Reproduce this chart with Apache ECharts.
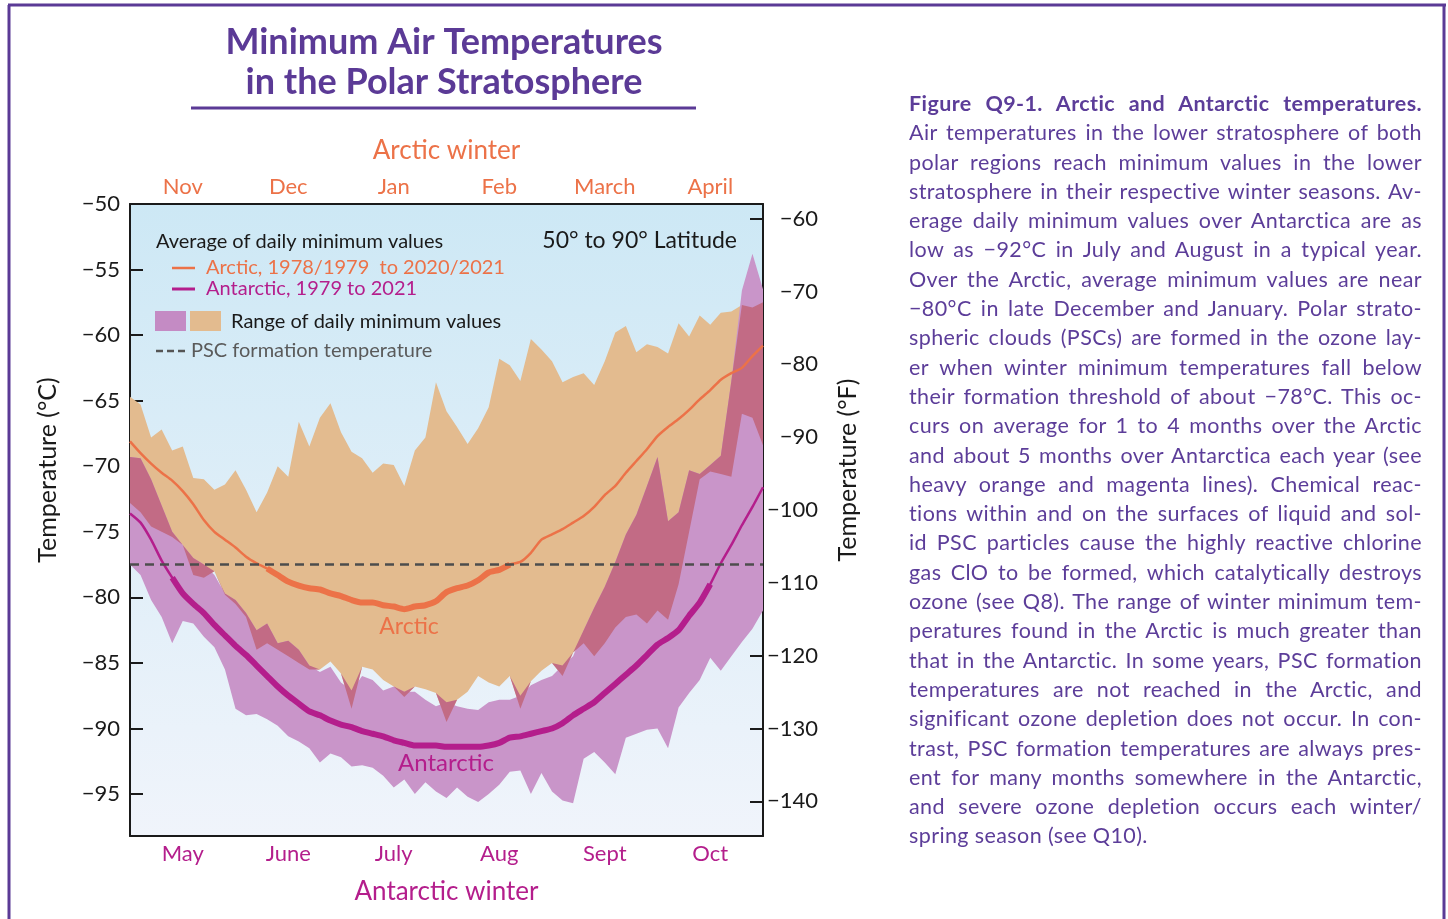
<!DOCTYPE html>
<html>
<head>
<meta charset="utf-8">
<script src="https://cdn.jsdelivr.net/npm/echarts@6/dist/echarts.min.js"></script>
<style>
html, body { margin: 0; padding: 0; background: #fff; }
#wrap { position: relative; width: 1448px; height: 919px; overflow: hidden; }
#chart { position: absolute; left: 0; top: 0; width: 1448px; height: 919px; }
#caption { position: absolute; left: 909px; top: 89px; width: 513px;
  font-family: Lato, 'Open Sans', sans-serif; font-size: 21.5px; letter-spacing: 0.4px;
  line-height: 29.3px; color: #5c3d99; }
#caption div { height: 29.3px; white-space: nowrap; text-align: justify; text-align-last: justify; }
#caption div.last { text-align-last: left; }
</style>
</head>
<body>
<div id="wrap">
  <div id="chart"></div>
  <div id="caption">
    <div><b>Figure Q9-1. Arctic and Antarctic temperatures.</b></div>
    <div>Air temperatures in the lower stratosphere of both</div>
    <div>polar regions reach minimum values in the lower</div>
    <div>stratosphere in their respective winter seasons. Av-</div>
    <div>erage daily minimum values over Antarctica are as</div>
    <div>low as −92°C in July and August in a typical year.</div>
    <div>Over the Arctic, average minimum values are near</div>
    <div>−80°C in late December and January. Polar strato-</div>
    <div>spheric clouds (PSCs) are formed in the ozone lay-</div>
    <div>er when winter minimum temperatures fall below</div>
    <div>their formation threshold of about −78°C. This oc-</div>
    <div>curs on average for 1 to 4 months over the Arctic</div>
    <div>and about 5 months over Antarctica each year (see</div>
    <div>heavy orange and magenta lines). Chemical reac-</div>
    <div>tions within and on the surfaces of liquid and sol-</div>
    <div>id PSC particles cause the highly reactive chlorine</div>
    <div>gas ClO to be formed, which catalytically destroys</div>
    <div>ozone (see Q8). The range of winter minimum tem-</div>
    <div>peratures found in the Arctic is much greater than</div>
    <div>that in the Antarctic. In some years, PSC formation</div>
    <div>temperatures are not reached in the Arctic, and</div>
    <div>significant ozone depletion does not occur. In con-</div>
    <div>trast, PSC formation temperatures are always pres-</div>
    <div>ent for many months somewhere in the Antarctic,</div>
    <div>and severe ozone depletion occurs each winter/</div>
    <div class="last">spring season (see Q10).</div>
  </div>
</div>
<script>
// months shown on the two x axes (Arctic on top, Antarctic below)
var arcMonths = ['Nov', 'Dec', 'Jan', 'Feb', 'March', 'April'];
var antMonths = ['May', 'June', 'July', 'Aug', 'Sept', 'Oct'];
var cTicks = [-95, -90, -85, -80, -75, -70, -65, -60, -55, -50];
var fTicks = [-140, -130, -120, -110, -100, -90, -80, -70, -60];
var PSC = -77.5;

// daily minimum temperatures (°C), one value every ~3 days through the winter
var arcHi = [-64.7,-65.3,-67.8,-67.2,-68.8,-68.5,-70.9,-71.0,-71.8,-71.4,
  -70.3,-71.8,-73.5,-72.0,-70.0,-70.8,-66.6,-68.5,-66.3,-65.2,
  -67.4,-68.9,-69.4,-70.5,-69.8,-69.9,-71.5,-68.8,-67.8,-63.6,
  -65.8,-67.0,-68.3,-67.1,-65.5,-61.8,-62.3,-63.5,-60.3,-61.1,
  -62.0,-63.6,-63.2,-62.9,-63.8,-62.0,-59.8,-59.3,-61.3,-60.7,
  -60.9,-61.4,-59.1,-60.1,-58.5,-59.2,-58.3,-58.2,-57.7,-57.9,-57.5];
var arcLo = [-72.8,-73.5,-74.6,-75.0,-75.4,-76.0,-78.3,-78.5,-78.0,-79.8,
  -80.5,-81.5,-84.0,-83.5,-84.0,-84.5,-85.0,-85.5,-85.5,-84.9,
  -85.8,-88.5,-85.3,-85.5,-86.3,-86.8,-87.6,-86.8,-87.0,-87.3,
  -89.5,-87.8,-87.2,-86.0,-86.5,-86.8,-86.0,-88.5,-86.4,-85.6,
  -85.0,-86.0,-84.2,-83.5,-84.5,-83.5,-82.3,-81.5,-81.3,-82.0,
  -81.0,-81.7,-79.0,-75.0,-71.0,-70.4,-70.6,-70.8,-66.0,-66.3,-68.4];
var antHi = [-69.3,-69.4,-71.0,-73.0,-75.0,-76.0,-77.0,-77.5,-78.3,-79.7,
  -80.2,-81.2,-82.5,-82.0,-83.5,-83.3,-84.0,-85.2,-85.7,-85.3,
  -86.5,-87.1,-86.0,-86.3,-87.1,-86.8,-87.2,-87.2,-87.8,-88.3,
  -88.0,-88.3,-88.5,-88.6,-88.0,-87.8,-87.8,-87.5,-86.7,-86.3,
  -86.0,-85.2,-84.5,-82.5,-80.8,-79.2,-77.3,-75.2,-73.7,-71.5,
  -69.3,-74.2,-73.5,-70.3,-70.6,-69.9,-69.2,-63.5,-56.6,-53.8,-56.5];
var antLo = [-77.5,-78.3,-80.2,-81.5,-83.5,-81.8,-82.0,-83.0,-83.8,-85.5,
  -88.5,-89.0,-88.9,-89.3,-89.8,-90.6,-91.0,-91.5,-92.6,-91.9,
  -92.2,-92.9,-92.8,-93.0,-93.6,-94.5,-93.9,-95.0,-94.1,-94.8,
  -95.3,-94.5,-95.2,-95.6,-95.0,-94.3,-93.3,-93.2,-95.0,-93.4,
  -94.8,-95.5,-95.7,-92.3,-91.8,-92.6,-93.5,-90.7,-90.4,-90.1,
  -90.0,-91.5,-88.4,-87.3,-86.3,-84.6,-85.6,-84.5,-83.4,-82.4,-81.0];
var arcMean = [-68.1,-69.0,-69.8,-70.5,-71.1,-71.9,-72.9,-74.1,-75.0,-75.6,
  -76.2,-76.9,-77.4,-77.8,-78.3,-78.8,-79.1,-79.3,-79.4,-79.7,
  -79.9,-80.2,-80.4,-80.4,-80.6,-80.7,-80.9,-80.7,-80.6,-80.3,
  -79.6,-79.3,-79.1,-78.7,-78.1,-77.9,-77.5,-77.3,-76.6,-75.6,
  -75.2,-74.8,-74.3,-73.8,-73.1,-72.2,-71.5,-70.5,-69.6,-68.7,
  -67.7,-67.0,-66.4,-65.7,-64.9,-64.2,-63.4,-62.9,-62.5,-61.6,-60.8];
var antMean = [-73.6,-74.3,-75.6,-77.2,-78.5,-79.7,-80.5,-81.2,-82.1,-82.9,
  -83.7,-84.4,-85.2,-86.0,-86.8,-87.5,-88.1,-88.7,-89.0,-89.4,
  -89.7,-89.9,-90.2,-90.4,-90.6,-90.9,-91.1,-91.3,-91.3,-91.3,
  -91.4,-91.4,-91.4,-91.4,-91.3,-91.1,-90.7,-90.6,-90.4,-90.2,
  -90.0,-89.6,-89.0,-88.5,-88.0,-87.3,-86.6,-85.9,-85.2,-84.4,
  -83.6,-83.1,-82.5,-81.4,-80.4,-79.0,-77.4,-76.0,-74.5,-73.1,-71.6];

var steps = arcMean.map(function (v, i) { return i; });

var ORANGE = '#ec7248', MAGENTA = '#b41e8c', PURPLE = '#5b3a96';
var FONT = 'Lato, "Open Sans", sans-serif';

function minus(v) { return String(v).replace('-', '\u2212'); }

// range band = invisible base + stacked difference
function band(id, lo, hi, color) {
    return [{
        type: 'line', data: lo, stack: id, stackStrategy: 'all', symbol: 'none',
        lineStyle: { width: 0, opacity: 0 }, silent: true
    }, {
        type: 'line', data: hi.map(function (v, i) { return Math.max(0, v - lo[i]); }),
        stack: id, stackStrategy: 'all', symbol: 'none',
        lineStyle: { width: 0, opacity: 0 }, areaStyle: { color: color, opacity: 1 }, silent: true
    }];
}

var ovLo = arcLo.map(function (v, i) { return Math.max(v, antLo[i]); });
var ovHi = arcHi.map(function (v, i) { return Math.max(Math.min(v, antHi[i]), ovLo[i]); });

function heavy(arr) {
    return arr.map(function (v) { return v <= PSC ? v : '-'; });
}

function label(x, y, text, color, size, align, extra) {
    var el = { type: 'text', x: x, y: y, z: 10, style: {
        text: text, fill: color, font: size + 'px ' + FONT,
        textAlign: align || 'left', align: align || 'left',
        textVerticalAlign: 'middle', verticalAlign: 'middle' } };
    if (extra) { for (var k in extra) { el[k] = extra[k]; } }
    return el;
}

var myChart = echarts.init(document.getElementById('chart'));

var option = {
    animation: false,
    grid: {
        left: 130, right: 685, top: 204, bottom: 83, show: true, borderWidth: 0,
        backgroundColor: new echarts.graphic.LinearGradient(0, 0, 0, 1, [
            { offset: 0, color: '#cde8f5' },
            { offset: 1, color: '#f0f4fb' }
        ])
    },
    xAxis: [
        {
            type: 'category', data: steps, boundaryGap: false, position: 'bottom',
            axisLine: { show: false }, axisTick: { show: false }, axisLabel: { show: false }
        },
        {
            type: 'category', data: antMonths, position: 'bottom',
            name: 'Antarctic winter', nameLocation: 'middle', nameGap: 43,
            nameTextStyle: { color: MAGENTA, fontSize: 26, fontFamily: FONT },
            axisLine: { lineStyle: { color: '#1a1a1a', width: 2 } },
            axisTick: { inside: true, length: 12, lineStyle: { color: '#1a1a1a', width: 2 } },
            axisLabel: { color: MAGENTA, fontSize: 22, fontFamily: FONT, margin: 7 }
        },
        {
            type: 'category', data: arcMonths, position: 'top',
            name: 'Arctic winter', nameLocation: 'middle', nameGap: 40,
            nameTextStyle: { color: ORANGE, fontSize: 26, fontFamily: FONT },
            axisLine: { lineStyle: { color: '#1a1a1a', width: 2 } },
            axisTick: { inside: true, length: 12, lineStyle: { color: '#1a1a1a', width: 2 } },
            axisLabel: { color: ORANGE, fontSize: 22, fontFamily: FONT, margin: 6 }
        }
    ],
    yAxis: [
        {
            type: 'value', min: -98.2, max: -50, position: 'left',
            splitLine: { show: false },
            axisLine: { show: true, lineStyle: { color: '#1a1a1a', width: 2 } },
            axisTick: { show: true, inside: true, length: 13, customValues: cTicks,
                lineStyle: { color: '#1a1a1a', width: 2 } },
            axisLabel: { customValues: cTicks, formatter: minus, margin: 10,
                color: '#1a1a1a', fontSize: 22, fontFamily: FONT }
        },
        {
            type: 'value', min: -98.2 * 1.8 + 32, max: -50 * 1.8 + 32, position: 'right',
            splitLine: { show: false },
            axisLine: { show: true, lineStyle: { color: '#1a1a1a', width: 2 } },
            axisTick: { show: true, inside: true, length: 13, customValues: fTicks,
                lineStyle: { color: '#1a1a1a', width: 2 } },
            axisLabel: { customValues: fTicks, formatter: minus, margin: 55, align: 'right',
                color: '#1a1a1a', fontSize: 22, fontFamily: FONT }
        }
    ],
    series: [].concat(
        band('arc', arcLo, arcHi, '#e3bb8f'),
        band('ant', antLo, antHi, '#c995c9'),
        band('ov', ovLo, ovHi, '#c26b85'),
        [{
            type: 'line', data: [], symbol: 'none',
            markLine: {
                silent: true, symbol: 'none', label: { show: false },
                lineStyle: { color: '#4d4d4d', type: [9, 6], width: 2.5 },
                data: [{ yAxis: PSC }]
            }
        },
        { type: 'line', data: arcMean, symbol: 'none', smooth: 0.2,
          lineStyle: { color: ORANGE, width: 2.5 } },
        { type: 'line', data: heavy(arcMean), symbol: 'none', smooth: 0.2,
          lineStyle: { color: ORANGE, width: 6 } },
        { type: 'line', data: antMean, symbol: 'none', smooth: 0.2,
          lineStyle: { color: MAGENTA, width: 2.5 } },
        { type: 'line', data: heavy(antMean), symbol: 'none', smooth: 0.2,
          lineStyle: { color: MAGENTA, width: 6 } }]
    ),
    graphic: [
        // page frame
        { type: 'line', shape: { x1: 8, y1: 5, x2: 1446, y2: 5 }, style: { stroke: PURPLE, lineWidth: 3 } },
        { type: 'line', shape: { x1: 9, y1: 5, x2: 9, y2: 919 }, style: { stroke: PURPLE, lineWidth: 3 } },
        { type: 'line', shape: { x1: 1444, y1: 5, x2: 1444, y2: 919 }, style: { stroke: PURPLE, lineWidth: 3 } },
        // title
        { type: 'text', x: 444, y: 42, style: { text: 'Minimum Air Temperatures', fill: PURPLE,
            font: 'bold 36px ' + FONT, textAlign: 'center', textVerticalAlign: 'middle', align: 'center', verticalAlign: 'middle' } },
        { type: 'text', x: 444, y: 82, style: { text: 'in the Polar Stratosphere', fill: PURPLE,
            font: 'bold 36px ' + FONT, textAlign: 'center', textVerticalAlign: 'middle', align: 'center', verticalAlign: 'middle' } },
        { type: 'line', shape: { x1: 191, y1: 108, x2: 696, y2: 108 }, style: { stroke: PURPLE, lineWidth: 3 } },
        // axis titles
        label(48, 470, 'Temperature (°C)', '#1a1a1a', 25, 'center', { rotation: Math.PI / 2 }),
        label(848, 470, 'Temperature (°F)', '#1a1a1a', 25, 'center', { rotation: Math.PI / 2 }),
        // legend inside the plot
        label(156, 242, 'Average of daily minimum values', '#1a1a1a', 20),
        { type: 'line', z: 10, shape: { x1: 172, y1: 268, x2: 195, y2: 268 }, style: { stroke: ORANGE, lineWidth: 2.5 } },
        label(206, 268, 'Arctic, 1978/1979  to 2020/2021', ORANGE, 20),
        { type: 'line', z: 10, shape: { x1: 172, y1: 289, x2: 195, y2: 289 }, style: { stroke: MAGENTA, lineWidth: 3 } },
        label(206, 289, 'Antarctic, 1979 to 2021', MAGENTA, 20),
        { type: 'rect', z: 10, shape: { x: 155, y: 311, width: 31, height: 20 }, style: { fill: '#c48bc4' } },
        { type: 'rect', z: 10, shape: { x: 190, y: 311, width: 31, height: 20 }, style: { fill: '#e3bb8f' } },
        label(231, 322, 'Range of daily minimum values', '#1a1a1a', 20),
        { type: 'line', z: 10, shape: { x1: 156, y1: 351, x2: 186, y2: 351 },
            style: { stroke: '#555', lineWidth: 2.5, lineDash: [7, 4] } },
        label(191, 351, 'PSC formation temperature', '#5a5a5a', 20),
        label(737, 241, '50° to 90° Latitude', '#1a1a1a', 23, 'right'),
        // series labels
        label(409, 627, 'Arctic', ORANGE, 23, 'center'),
        label(446, 763, 'Antarctic', MAGENTA, 24, 'center')
    ]
};

myChart.setOption(option);
</script>
</body>
</html>
